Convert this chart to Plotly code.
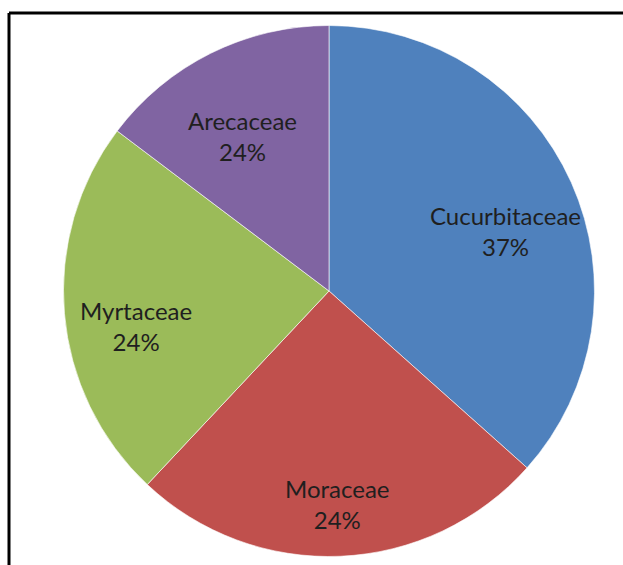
import math
import plotly.graph_objects as go

W, H = 623, 565

families = ["Cucurbitaceae", "Moraceae", "Myrtaceae", "Arecaceae"]
values = [36.6, 25.4, 23.3, 14.7]
pct_labels = ["37%", "24%", "24%", "24%"]
colors = ["#4F81BD", "#C0504D", "#9BBB59", "#8064A2"]

cx, cy, r = 329, 291, 265.5
label_r = 0.73      # fraction of the radius where labels sit
label_drop = 19     # px: labels sit slightly below the mid-angle point

fig = go.Figure(go.Pie(
    labels=families,
    values=values,
    textinfo="none",
    sort=False,
    direction="clockwise",
    rotation=0,
    marker=dict(colors=colors, line=dict(color="rgba(255,255,255,0.6)", width=1)),
    domain=dict(x=[(cx - r) / W, (cx + r) / W], y=[1 - (cy + r) / H, 1 - (cy - r) / H]),
    showlegend=False,
    hoverinfo="skip",
))

# label annotations placed at each slice's mid-angle (derived from the values)
total = sum(values)
annotations = []
cum = 0.0
for name, v, pct in zip(families, values, pct_labels):
    mid = (cum + v / 2) / total * 2 * math.pi
    cum += v
    px = cx + label_r * r * math.sin(mid)
    py = cy - label_r * r * math.cos(mid) + label_drop
    annotations.append(dict(
        x=px / W, y=1 - py / H, xref="paper", yref="paper",
        text=f"{name}<br>{pct}", showarrow=False,
        xanchor="center", yanchor="middle", align="center",
        font=dict(family="Lato, Open Sans, sans-serif", size=24, color="#1f1f1f"),
    ))

fig.update_layout(
    width=W, height=H,
    margin=dict(l=0, r=0, t=0, b=0),
    paper_bgcolor="white",
    plot_bgcolor="white",
    annotations=annotations,
    shapes=[
        dict(type="line", xref="paper", yref="paper", x0=9 / W, x1=1.02, y0=1 - 13 / H, y1=1 - 13 / H,
             line=dict(color="black", width=3)),
        dict(type="line", xref="paper", yref="paper", x0=9 / W, x1=9 / W, y0=-0.02, y1=1 - 13 / H,
             line=dict(color="black", width=3)),
    ],
)

fig.write_html("out.html")
